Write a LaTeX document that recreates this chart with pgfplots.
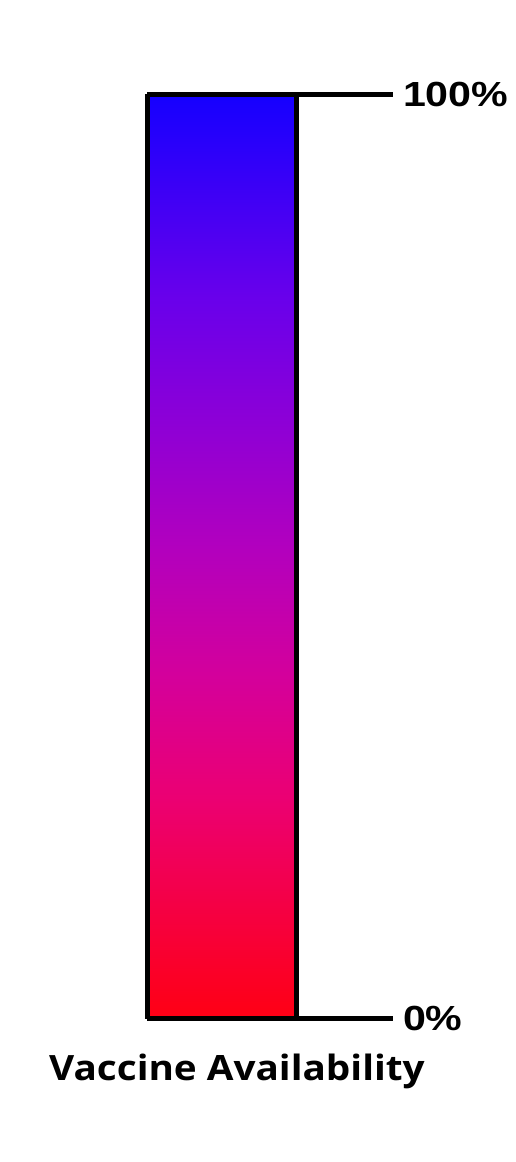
\documentclass[border=0pt]{standalone}
\usepackage{pgfplots}
\pgfplotsset{compat=1.18}
\usepackage{fontspec}
\setmainfont{Liberation Sans}
\newfontfamily\tickfont[FakeStretch=1.18]{Liberation Sans}
\newfontfamily\titlefont[FakeStretch=1.11]{Open Sans}
\begin{document}
\begin{tikzpicture}[x=1bp,y=1bp]
\useasboundingbox (-147.5,-143.5) rectangle (368.5,1018.5);
\begin{axis}[
  at={(0,0)}, anchor=south west,
  scale only axis, width=149bp, height=924bp,
  xmin=0, xmax=1, ymin=0, ymax=100,
  view={0}{90},
  colormap={vacc}{rgb255(0)=(255,0,20) rgb255(24)=(235,0,115) rgb255(37)=(212,0,155) rgb255(51)=(178,0,190) rgb255(65)=(140,0,215) rgb255(78)=(105,0,235) rgb255(100)=(21,0,255)},
  point meta min=0, point meta max=100,
  axis line style={line width=5bp, black},
  xtick=\empty,
  ytick={0,100},
  yticklabels={0\%,100\%},
  yticklabel pos=right,
  ytick pos=right,
  tick align=outside,
  major tick length=96bp,
  tick style={line width=5bp, black},
  yticklabel style={font=\tickfont\bfseries\fontsize{35}{35}\selectfont, anchor=west, xshift=7bp},
  axis on top,
  clip=false,
]
\addplot3[surf, shader=interp, point meta=y] coordinates {
  (0,0,0) (1,0,0)

  (0,24,0) (1,24,0)

  (0,37,0) (1,37,0)

  (0,51,0) (1,51,0)

  (0,65,0) (1,65,0)

  (0,78,0) (1,78,0)

  (0,100,0) (1,100,0)
};
\node[anchor=base, font=\titlefont\bfseries\fontsize{35}{35}\selectfont] at (rel axis cs:0.5,0) [xshift=15bp, yshift=-62bp] {Vaccine Availability};
\end{axis}
\end{tikzpicture}
\end{document}
